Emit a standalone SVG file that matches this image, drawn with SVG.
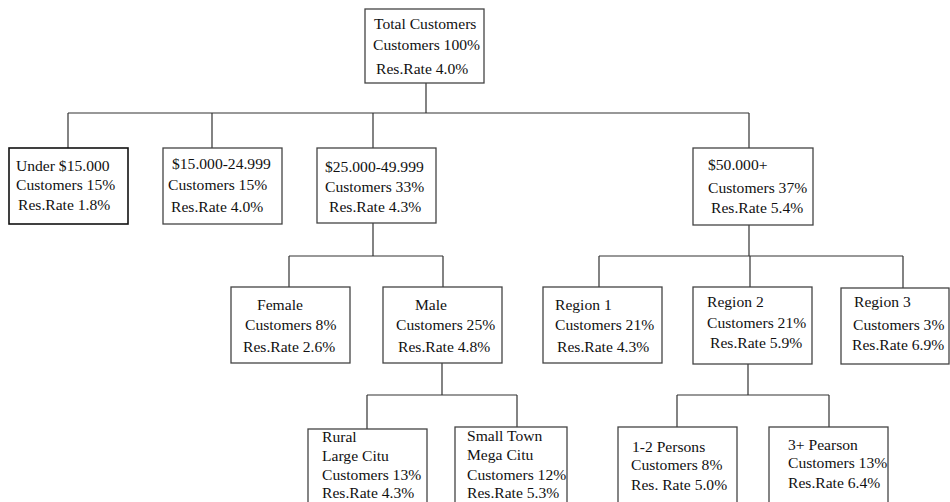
<svg xmlns="http://www.w3.org/2000/svg" width="950" height="502" viewBox="0 0 950 502">
<style>
.box{fill:#fff;stroke:#444;stroke-width:1.3}
.bold{stroke:#111;stroke-width:1.6}
.t{font-family:"Liberation Serif","Times New Roman",serif;font-size:15.6px;fill:#111}
.c{fill:none;stroke:#333;stroke-width:1.2}
</style>
<rect width="950" height="502" fill="#fff"/>
<g id="connectors" class="c">
<path d="M426 83V113M68 113H749M68 113V148M212 113V148M373 113V148M749 113V148"/>
<path d="M373 223V256M289 256H443M289 256V287M443 256V287"/>
<path d="M749 225V256M599 256H903M599 256V287M750 256V287M903 256V288"/>
<path d="M442 363V395M367 395H517M367 395V429M517 395V427"/>
<path d="M748 364V395M677 395H829M677 395V427M829 395V427"/>
</g>
<g id="total"><rect class="box" x="365" y="9" width="119" height="74"/>
<text class="t"><tspan x="374" y="29">Total Customers</tspan><tspan x="373" y="50">Customers 100%</tspan><tspan x="376" y="74">Res.Rate 4.0%</tspan></text></g>
<g id="under15"><rect class="box bold" x="9" y="148" width="119" height="76"/>
<text class="t"><tspan x="16" y="171">Under $15.000</tspan><tspan x="16" y="190">Customers 15%</tspan><tspan x="18" y="210">Res.Rate 1.8%</tspan></text></g>
<g id="r15"><rect class="box" x="163" y="148" width="119" height="76"/>
<text class="t"><tspan x="172" y="169">$15.000-24.999</tspan><tspan x="168" y="190">Customers 15%</tspan><tspan x="171" y="212">Res.Rate 4.0%</tspan></text></g>
<g id="r25"><rect class="box" x="317" y="148" width="119" height="75"/>
<text class="t"><tspan x="325" y="172">$25.000-49.999</tspan><tspan x="325" y="192">Customers 33%</tspan><tspan x="329" y="212">Res.Rate 4.3%</tspan></text></g>
<g id="r50"><rect class="box" x="693" y="148" width="120" height="77"/>
<text class="t"><tspan x="708" y="170">$50.000+</tspan><tspan x="708" y="193">Customers 37%</tspan><tspan x="711" y="213">Res.Rate 5.4%</tspan></text></g>
<g id="female"><rect class="box" x="231" y="287" width="119" height="76"/>
<text class="t"><tspan x="257" y="310">Female</tspan><tspan x="245" y="330">Customers 8%</tspan><tspan x="243" y="352">Res.Rate 2.6%</tspan></text></g>
<g id="male"><rect class="box" x="383" y="287" width="119" height="76"/>
<text class="t"><tspan x="415" y="310">Male</tspan><tspan x="396" y="330">Customers 25%</tspan><tspan x="398" y="352">Res.Rate 4.8%</tspan></text></g>
<g id="region1"><rect class="box" x="543" y="287" width="119" height="76"/>
<text class="t"><tspan x="555" y="310">Region 1</tspan><tspan x="555" y="330">Customers 21%</tspan><tspan x="557" y="352">Res.Rate 4.3%</tspan></text></g>
<g id="region2"><rect class="box" x="693" y="287" width="119" height="77"/>
<text class="t"><tspan x="707" y="307">Region 2</tspan><tspan x="707" y="328">Customers 21%</tspan><tspan x="710" y="348">Res.Rate 5.9%</tspan></text></g>
<g id="region3"><rect class="box" x="841" y="288" width="108" height="76"/>
<text class="t"><tspan x="854" y="307">Region 3</tspan><tspan x="853" y="330">Customers 3%</tspan><tspan x="852" y="350">Res.Rate 6.9%</tspan></text></g>
<g id="rural"><rect class="box" x="308" y="429" width="119" height="85"/>
<text class="t"><tspan x="322" y="442">Rural</tspan><tspan x="322" y="461">Large Citu</tspan><tspan x="322" y="480">Customers 13%</tspan><tspan x="322" y="498">Res.Rate 4.3%</tspan></text></g>
<g id="smalltown"><rect class="box" x="455" y="427" width="112" height="87"/>
<text class="t"><tspan x="467" y="441">Small Town</tspan><tspan x="467" y="460">Mega Citu</tspan><tspan x="467" y="480">Customers 12%</tspan><tspan x="467" y="498">Res.Rate 5.3%</tspan></text></g>
<g id="persons12"><rect class="box" x="618" y="427" width="119" height="87"/>
<text class="t"><tspan x="632" y="452">1-2 Persons</tspan><tspan x="631" y="470">Customers 8%</tspan><tspan x="631" y="490">Res. Rate 5.0%</tspan></text></g>
<g id="persons3"><rect class="box" x="769" y="427" width="119" height="87"/>
<text class="t"><tspan x="788" y="450">3+ Pearson</tspan><tspan x="788" y="468">Customers 13%</tspan><tspan x="788" y="488">Res.Rate 6.4%</tspan></text></g>
</svg>
